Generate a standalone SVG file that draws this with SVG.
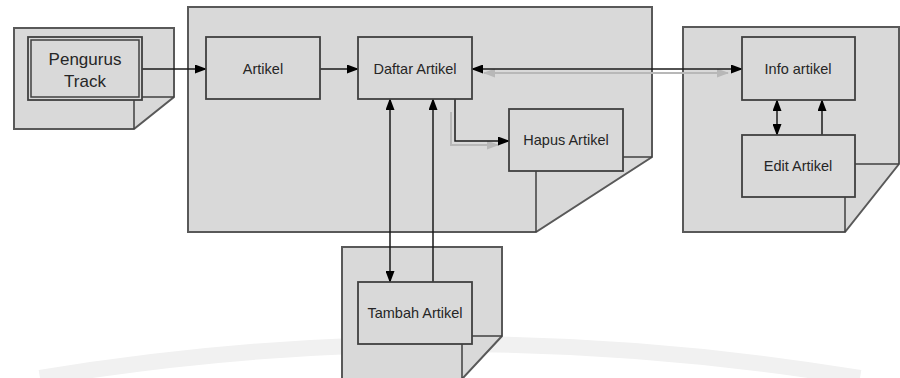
<svg xmlns="http://www.w3.org/2000/svg" width="900" height="378" viewBox="0 0 900 378">
<defs>
<style>
.cont{fill:#d9d9d9;stroke:#595959;stroke-width:2;stroke-linejoin:miter}
.fold{fill:none;stroke:#404040;stroke-width:1.5}
.box{fill:#d9d9d9;stroke:#404040;stroke-width:1.8}
.lbl{font-family:"Liberation Sans",Arial,sans-serif;font-size:14.5px;fill:#262626;text-anchor:middle}
.big{font-size:17px}
.ln{fill:none;stroke:#1a1a1a;stroke-width:1.5}
.sh{fill:none;stroke:#b8b8b8;stroke-width:2}
</style>
<marker id="ah" markerWidth="12" markerHeight="9" refX="11" refY="4.5" orient="auto-start-reverse" markerUnits="userSpaceOnUse">
<path d="M0,0 L12,4.5 L0,9 z" fill="#000"/>
</marker>
<marker id="ahg" markerWidth="12" markerHeight="9" refX="11" refY="4.5" orient="auto-start-reverse" markerUnits="userSpaceOnUse">
<path d="M0,0 L12,4.5 L0,9 z" fill="#b8b8b8"/>
</marker>
</defs>
<rect width="900" height="378" fill="#fff"/>
<path d="M40,378 Q450,310 860,378" fill="none" stroke="#f1f1f1" stroke-width="16"/>

<g id="container-left">
<path class="cont" d="M14,28 H174 V97 L134,129 H14 Z"/>
<path class="fold" d="M134,129 V97 H174"/>
</g>
<g id="container-center">
<path class="cont" d="M188,7 H652 V157 L536,232 H188 Z"/>
<path class="fold" d="M536,232 V157 H652"/>
</g>
<g id="container-right">
<path class="cont" d="M683,27 H899 V164 L845,232 H683 Z"/>
<path class="fold" d="M845,232 V164 H899"/>
</g>
<g id="container-bottom">
<path class="cont" d="M342,247 H502 V336 L462,379 H342 Z"/>
<path class="fold" d="M462,379 V336 H502"/>
</g>

<g id="connectors">
<line class="ln" x1="142" y1="69" x2="206" y2="69" marker-end="url(#ah)"/>
<line class="ln" x1="320" y1="69" x2="358" y2="69" marker-end="url(#ah)"/>
<line class="sh" x1="484" y1="73" x2="728" y2="73" marker-start="url(#ahg)" marker-end="url(#ahg)"/>
<line class="ln" x1="472" y1="69" x2="742" y2="69" marker-start="url(#ah)" marker-end="url(#ah)"/>
<path class="sh" d="M451,112 V145 H498" marker-end="url(#ahg)"/>
<path class="ln" d="M455,99 V141 H509" marker-end="url(#ah)"/>
<line class="ln" x1="390" y1="99" x2="390" y2="282" marker-start="url(#ah)" marker-end="url(#ah)"/>
<line class="ln" x1="433" y1="282" x2="433" y2="99" marker-end="url(#ah)"/>
<line class="ln" x1="777" y1="100" x2="777" y2="135" marker-start="url(#ah)" marker-end="url(#ah)"/>
<line class="ln" x1="822" y1="135" x2="822" y2="100" marker-end="url(#ah)"/>
</g>

<g id="pengurus-track">
<rect class="box" x="28" y="37" width="114" height="63"/>
<rect x="31" y="40" width="108" height="57" fill="none" stroke="#404040" stroke-width="1.5"/>
<text class="lbl big" x="85" y="65">Pengurus</text>
<text class="lbl big" x="85" y="87">Track</text>
</g>
<g id="artikel">
<rect class="box" x="206" y="37" width="114" height="62"/>
<text class="lbl" x="263" y="74">Artikel</text>
</g>
<g id="daftar-artikel">
<rect class="box" x="358" y="37" width="114" height="62"/>
<text class="lbl" x="415" y="74">Daftar Artikel</text>
</g>
<g id="hapus-artikel">
<rect class="box" x="509" y="109" width="114" height="62"/>
<text class="lbl" x="566" y="145">Hapus Artikel</text>
</g>
<g id="tambah-artikel">
<rect class="box" x="358" y="282" width="114" height="62"/>
<text class="lbl" x="415" y="318">Tambah Artikel</text>
</g>
<g id="info-artikel">
<rect class="box" x="742" y="37" width="113" height="63"/>
<text class="lbl" x="798" y="74">Info artikel</text>
</g>
<g id="edit-artikel">
<rect class="box" x="742" y="135" width="113" height="62"/>
<text class="lbl" x="798" y="171">Edit Artikel</text>
</g>
</svg>
